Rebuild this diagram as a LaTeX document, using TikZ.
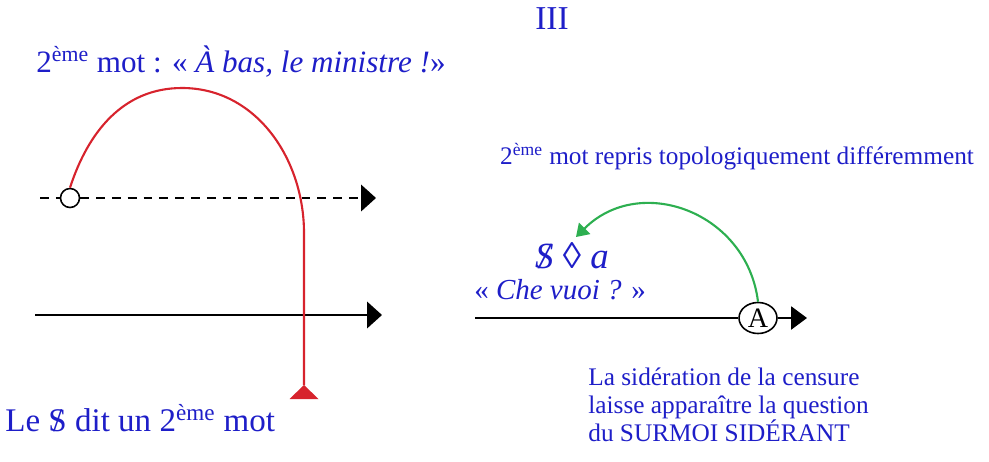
\documentclass[tikz,border=0pt]{standalone}
\usepackage{fontspec}
\setmainfont{Liberation Serif}
\usepackage{tikz}
\usetikzlibrary{positioning, arrows.meta, shapes.geometric, calc}

\definecolor{txtblue}{RGB}{30,30,200}
\definecolor{curvered}{RGB}{215,35,45}
\definecolor{curvegreen}{RGB}{45,175,80}

\newcommand{\barS}{\ooalign{S\cr\hidewidth/\hidewidth\cr}}
\newcommand{\eme}{\textsuperscript{ème}}

\begin{document}
\begin{tikzpicture}[
    x=0.02cm, y=0.02cm,
    bigtxt/.style={text=txtblue, font=\fontsize{17.7}{20}\selectfont, inner sep=0pt},
    smalltxt/.style={text=txtblue, font=\fontsize{14.4}{16}\selectfont, inner sep=0pt, align=left},
    axisline/.style={line width=1.4pt, -{Triangle[length=8.5pt, width=15pt]}},
    axisline2/.style={line width=1.4pt, -{Triangle[length=9pt, width=13pt]}},
    hole/.style={draw, fill=white, circle, line width=0.9pt, minimum size=0.38cm, inner sep=0pt},
    pointA/.style={draw, fill=white, ellipse, line width=0.9pt, minimum width=0.76cm,
                   minimum height=0.62cm, inner sep=0pt, font=\fontsize{16}{16}\selectfont},
    redcurve/.style={draw=curvered, line width=1.2pt},
    greencurve/.style={draw=curvegreen, line width=1.2pt, -{Triangle[length=7pt, width=9pt]}},
]
\useasboundingbox (0,0) rectangle (989,461);

% === titre ===
\node[bigtxt, font=\fontsize{19}{20}\selectfont] (num) at (552,442) {III};

% === gauche : le 2eme mot ===
\node[bigtxt] (mot2) at (241,399) {2\eme{} mot : « \textit{À bas, le ministre !}»};

\coordinate (ds) at (40,263);
\coordinate (de) at (376,263);
\node[hole] (c1) at (70,263) {};
\draw[line width=1.4pt, dash pattern=on 5pt off 4pt] (ds) -- (c1.west);
\draw[axisline, dash pattern=on 5pt off 4pt] (c1.east) -- (de);

\coordinate (ls) at (35,146);
\coordinate (le) at (382,146);
\draw[axisline] (ls) -- (le);

\coordinate (peak) at (182,373);
\coordinate (bend) at (304,228);
\coordinate (tip) at (304,76);
\draw[redcurve] (c1.north) to[out=72, in=180] (peak) to[out=0, in=90] (bend) -- (tip);
\fill[curvered] (tip) -- ++(14.5,-14) -- ++(-29,0) -- cycle;

\node[bigtxt, anchor=west, font=\fontsize{18.8}{20}\selectfont] (dit) at (5,43) {Le \barS{} dit un 2\eme{} mot};

% === droite : repris autrement ===
\node[smalltxt] (repris) at (737,304) {2\eme{} mot repris topologiquement différemment};

\coordinate (rs) at (475,143);
\coordinate (re) at (807,143);
\node[pointA] (A) at (758,143) {A};
\draw[line width=1.4pt] (rs) -- (A.west);
\draw[axisline2] (A.east) -- (re);

\coordinate (gtip) at (576,224);
\draw[greencurve] (A.north) to[out=97, in=45, looseness=1.2] (gtip);

\node[bigtxt, font=\fontsize{21}{24}\selectfont\itshape] (matheme) at (572,205) {\barS\ ◊ a};
\node[bigtxt, font=\fontsize{16.5}{20}\selectfont] (chevuoi) at (560,171) {« \textit{Che vuoi ?} »};

\node[smalltxt, anchor=west] (sideration) at (588,56)
    {La sidération de la censure\\laisse apparaître la question\\du SURMOI SIDÉRANT};

\end{tikzpicture}
\end{document}
